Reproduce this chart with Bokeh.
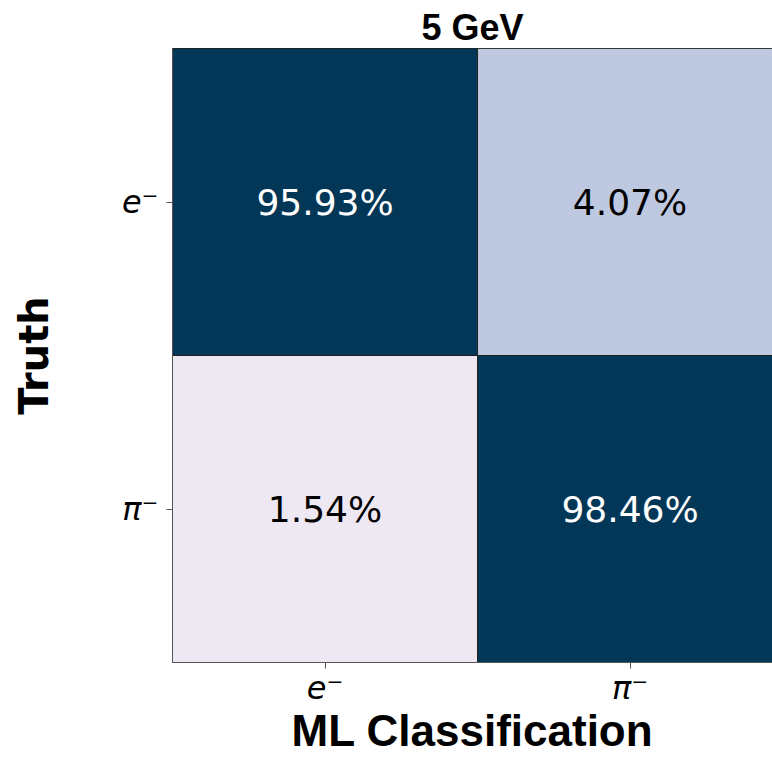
from bokeh.plotting import figure
from bokeh.models import ColumnDataSource, FixedTicker
from bokeh.embed import file_html
from bokeh.resources import INLINE
from bokeh.core.properties import value

# ---- data ----
title_text = "5 GeV"
classes = ["e⁻", "π⁻"]          # class order (truth rows / predicted columns)
truth_labels = ["e⁻", "e⁻", "π⁻", "π⁻"]
pred_labels = ["e⁻", "π⁻", "e⁻", "π⁻"]
percent = [95.93, 4.07, 1.54, 98.46]
cell_colors = ["#033758", "#bec9e1", "#ede8f2", "#033758"]
text_colors = ["white", "black", "black", "white"]

# numeric positions from class index
xpos = [classes.index(c) for c in pred_labels]
ypos = [len(classes) - 1 - classes.index(c) for c in truth_labels]
src = ColumnDataSource(dict(
    x=xpos, y=ypos, fill=cell_colors, tc=text_colors,
    label=[f"{v:.2f}%" for v in percent],
))

p = figure(width=772, height=759, output_backend="svg", toolbar_location=None,
           x_range=(-0.5, 1.467), y_range=(-0.5, 1.5),
           min_border_left=172, min_border_right=0, min_border_top=48,
           min_border_bottom=97)
p.grid.visible = False
p.outline_line_color = "#222222"
p.outline_line_width = 1

p.rect(x="x", y="y", width=1, height=1, source=src, fill_color="fill",
       line_color="#222222", line_width=1)
p.text(x="x", y="y", text="label", source=src, text_color="tc",
       text_align="center", text_baseline="middle",
       text_font=value("DejaVu Sans"), text_font_size="36px")

# title
p.title.text = title_text
p.title.align = "center"
p.title.text_font = "Liberation Sans"
p.title.text_font_style = "bold"
p.title.text_font_size = "36px"
p.title.text_color = "black"
p.title.offset = 0
p.title.standoff = 2

tick_pos = list(range(len(classes)))
p.xaxis.ticker = FixedTicker(ticks=tick_pos)
p.xaxis.major_label_overrides = {i: c for i, c in enumerate(classes)}
p.yaxis.ticker = FixedTicker(ticks=tick_pos)
p.yaxis.major_label_overrides = {len(classes) - 1 - i: c for i, c in enumerate(classes)}

for ax in (p.xaxis, p.yaxis):
    ax.minor_tick_line_color = None
    ax.major_tick_in = 0
    ax.major_tick_out = 6
    ax.major_tick_line_color = "#555555"
    ax.axis_line_color = "#555555"
    ax.major_label_text_font = "DejaVu Sans"
    ax.major_label_text_font_style = "italic"
    ax.major_label_text_font_size = "32px"
    ax.major_label_text_color = "black"

p.yaxis.major_label_orientation = "horizontal"
p.xaxis.major_label_standoff = 0
p.yaxis.major_label_standoff = 8

p.xaxis.axis_label = "ML Classification"
p.xaxis.axis_label_text_font = "Liberation Sans"
p.xaxis.axis_label_text_font_style = "bold"
p.xaxis.axis_label_text_font_size = "44px"
p.xaxis.axis_label_text_color = "black"
p.xaxis.axis_label_standoff = -4

p.yaxis.axis_label = "Truth"
p.yaxis.axis_label_text_font = "DejaVu Sans"
p.yaxis.axis_label_text_font_style = "bold"
p.yaxis.axis_label_text_font_size = "40px"
p.yaxis.axis_label_text_color = "black"
p.yaxis.axis_label_standoff = 62

open("out.html", "w").write(file_html(p, INLINE))
